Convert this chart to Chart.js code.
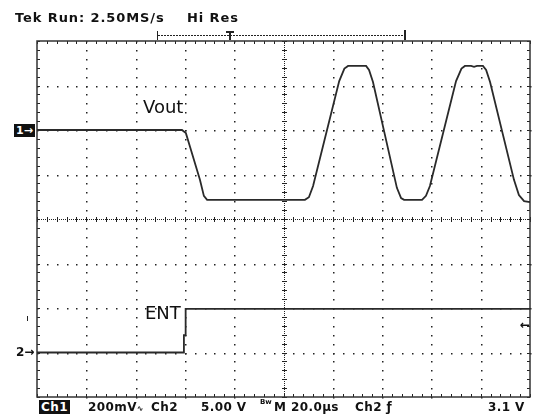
<!DOCTYPE html>
<html>
<head>
<meta charset="utf-8">
<script src="https://cdn.jsdelivr.net/npm/chart.js@4/dist/chart.umd.min.js"></script>
<style>
  html, body { margin: 0; padding: 0; background: #fff; }
  #scope { position: relative; width: 535px; height: 414px; overflow: hidden; }
  #scope canvas { position: absolute; left: 0; top: 0; }
  .lbl { position: absolute; white-space: nowrap; color: #111; font-family: 'DejaVu Sans', sans-serif; line-height: 1; }
  .hdr { font-weight: bold; font-size: 13px; letter-spacing: 0.9px; }
  .ftr { font-weight: bold; font-size: 12px; letter-spacing: 0.4px; }
  .sym { font-size: 8px; letter-spacing: 0; }
  .trace { font-size: 18px; }
  .inv { background: #111; color: #fff; padding: 0 2px; }
</style>
</head>
<body>
<div id="scope">
  <canvas id="scopeChart" width="535" height="414"></canvas>
  <div class="lbl hdr" style="left:15px;top:11px;">Tek Run: 2.50MS/s</div>
  <div class="lbl hdr" style="left:187px;top:11px;">Hi Res</div>
  <div class="lbl trace" style="left:143px;top:98px;">Vout</div>
  <div class="lbl trace" style="left:145px;top:304px;">ENT</div>
  <div class="lbl ftr inv" style="left:14px;top:124px;font-size:11px;letter-spacing:0;padding:1px 2px;">1→</div>
  <div class="lbl ftr" style="left:16px;top:346px;letter-spacing:0;">2→</div>
  <div class="lbl ftr" style="left:520px;top:319px;">←</div>
  <div class="lbl ftr inv" style="left:39px;top:400px;padding:1px 2px;">Ch1</div>
  <div class="lbl ftr" style="left:88px;top:401px;">200mV<span class="sym">∿</span></div>
  <div class="lbl ftr" style="left:151px;top:401px;">Ch2</div>
  <div class="lbl ftr" style="left:201px;top:401px;">5.00 V</div>
  <div class="lbl ftr" style="left:260px;top:399px;font-size:7px;letter-spacing:0;">Bw</div>
  <div class="lbl ftr" style="left:274px;top:401px;">M 20.0µs</div>
  <div class="lbl ftr" style="left:355px;top:401px;">Ch2 ƒ</div>
  <div class="lbl ftr" style="left:488px;top:401px;">3.1 V</div>
</div>
<script>
// time axis in µs (20 µs/div, 10 div), vertical axis in screen divisions (8 div)
const timeSpan = [0, 200];
const divSpan = [-4, 4];

// Ch1: Vout
const voutTime = [0, 58.8, 60.4, 62.1, 66.1, 67.7, 69.0, 108.7, 110.3, 112.0, 122.6, 124.7, 126.2,
  133.5, 134.7, 136.3, 146.0, 147.7, 148.9, 156.2, 157.8, 159.4, 170.0, 172.2, 173.6,
  176.1, 177.3, 178.5, 180.9, 182.2, 183.8, 193.5, 195.5, 197.6, 200];
const voutLevel = [2.0, 2.0, 1.93, 1.62, 0.88, 0.52, 0.43, 0.43, 0.49, 0.74, 3.10, 3.38, 3.44,
  3.44, 3.35, 3.08, 0.70, 0.47, 0.43, 0.43, 0.52, 0.74, 3.10, 3.38, 3.44,
  3.44, 3.42, 3.44, 3.44, 3.35, 3.08, 0.88, 0.54, 0.40, 0.38];

// Ch2: ENT
const entTime = [0, 59.6, 59.6, 60.3, 60.3, 200];
const entLevel = [-3.0, -3.0, -2.61, -2.61, -2.02, -2.02];

const toPoints = (xs, ys) => xs.map((t, i) => ({ x: t, y: ys[i] }));

const graticule = {
    id: 'graticule',
    beforeDatasetsDraw(chart) {
        const { ctx, chartArea: a, scales: { x, y } } = chart;
        ctx.save();
        ctx.fillStyle = '#222';
        const px = v => Math.round(x.getPixelForValue(v));
        const py = v => Math.round(y.getPixelForValue(v));

        // dotted major lines, one dot per minor division
        for (let i = 1; i < 10; i++) {
            if (i === 5) continue;
            for (let j = 0; j <= 40; j++) ctx.fillRect(px(i * 20), py(-4 + j * 0.2), 1.5, 1.5);
        }
        for (let j = 1; j < 8; j++) {
            if (j === 4) continue;
            for (let i = 0; i <= 50; i++) ctx.fillRect(px(i * 4), py(-4 + j), 1.5, 1.5);
        }

        // centre cross with fine dots and minor ticks
        const cx = px(100), cy = py(0);
        for (let v = a.top; v <= a.bottom; v += 2) ctx.fillRect(cx, v, 1, 1);
        for (let h = a.left; h <= a.right; h += 2) ctx.fillRect(h, cy, 1, 1);
        for (let j = 0; j <= 40; j++) ctx.fillRect(cx - 2, py(-4 + j * 0.2), 5, 1);
        for (let i = 0; i <= 50; i++) ctx.fillRect(px(i * 4), cy - 2, 1, 5);

        // border ticks pointing inward
        for (let i = 0; i <= 50; i++) {
            ctx.fillRect(px(i * 4), a.top, 1, 3);
            ctx.fillRect(px(i * 4), a.bottom - 3, 1, 3);
        }
        for (let j = 0; j <= 40; j++) {
            ctx.fillRect(a.left, py(-4 + j * 0.2), 3, 1);
            ctx.fillRect(a.right - 3, py(-4 + j * 0.2), 3, 1);
        }

        ctx.strokeStyle = '#333';
        ctx.lineWidth = 1.5;
        ctx.strokeRect(a.left, a.top, a.right - a.left, a.bottom - a.top);
        ctx.restore();
    },
    afterDraw(chart) {
        const { ctx } = chart;
        ctx.save();
        ctx.strokeStyle = '#222';
        ctx.lineWidth = 1;
        // record view bracket with trigger marker
        ctx.setLineDash([2, 1]);
        ctx.beginPath();
        ctx.moveTo(158, 35.5);
        ctx.lineTo(404, 35.5);
        ctx.stroke();
        ctx.setLineDash([]);
        ctx.beginPath();
        ctx.moveTo(157.5, 31); ctx.lineTo(157.5, 40);
        ctx.stroke();
        ctx.lineWidth = 2;
        ctx.beginPath();
        ctx.moveTo(226, 32); ctx.lineTo(234, 32);
        ctx.moveTo(230, 31); ctx.lineTo(230, 40);
        ctx.moveTo(405, 30); ctx.lineTo(405, 40);
        ctx.stroke();
        // ch2 level mark
        ctx.fillStyle = '#222';
        ctx.fillRect(27, 316, 1, 5);
        ctx.restore();
    }
};

new Chart(document.getElementById('scopeChart'), {
    type: 'line',
    data: {
        datasets: [
            {
                label: 'Vout',
                data: toPoints(voutTime, voutLevel),
                borderColor: '#2a2a2a',
                borderWidth: 1.8,
                pointRadius: 0,
                tension: 0
            },
            {
                label: 'ENT',
                data: toPoints(entTime, entLevel),
                borderColor: '#2a2a2a',
                borderWidth: 1.8,
                pointRadius: 0,
                tension: 0
            }
        ]
    },
    options: {
        responsive: false,
        animation: false,
        devicePixelRatio: 1,
        layout: { padding: { left: 37, top: 41, right: 5, bottom: 17 } },
        plugins: { legend: { display: false }, tooltip: { enabled: false } },
        scales: {
            x: { type: 'linear', min: timeSpan[0], max: timeSpan[1], display: false },
            y: { type: 'linear', min: divSpan[0], max: divSpan[1], display: false }
        }
    },
    plugins: [graticule]
});
</script>
</body>
</html>
